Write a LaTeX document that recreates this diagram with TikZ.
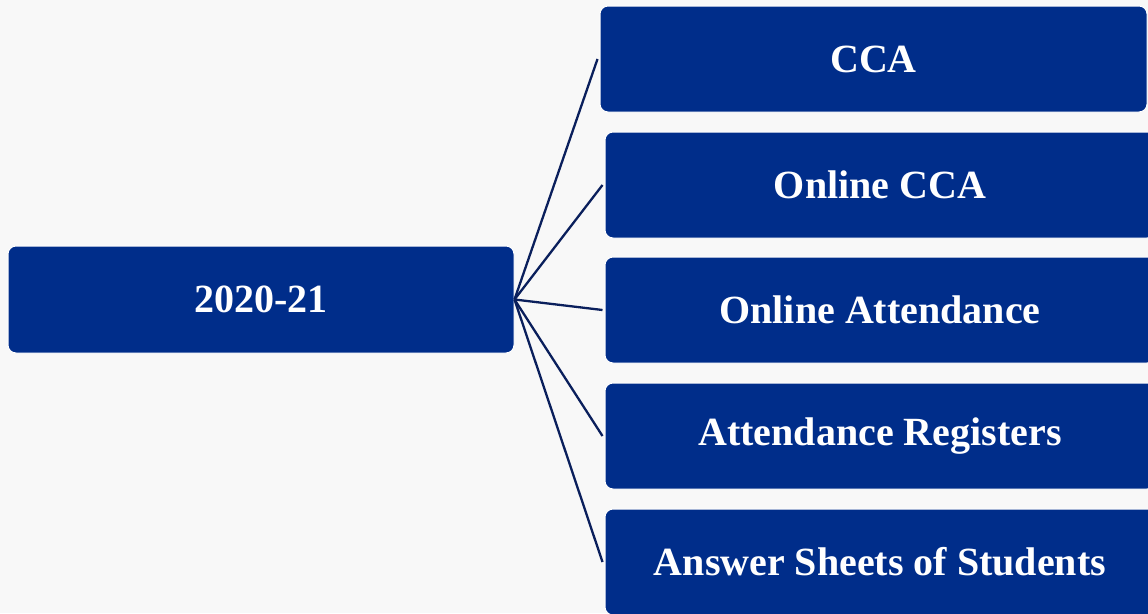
\documentclass[tikz,border=0pt]{standalone}
\usepackage{fontspec}
\setmainfont{Liberation Serif}
\definecolor{boxblue}{HTML}{002D8A}
\definecolor{linenavy}{HTML}{0A1F5C}
\definecolor{bg}{HTML}{F8F8F8}
\tikzset{
  box/.style={draw=white, line width=1pt, fill=boxblue, rounded corners=8pt,
    text=white, font=\bfseries\fontsize{40}{45}\selectfont, inner sep=0pt, align=center},
  conn/.style={draw=linenavy, line width=2.3pt}
}
\begin{document}
\begin{tikzpicture}[x=1pt,y=-1pt]
\useasboundingbox (0,0) rectangle (1148,613);
\clip (0,0) rectangle (1148,613);
\fill[bg] (0,0) rectangle (1148,613);
\node[box, minimum width=506pt, minimum height=107pt] (root) at (261,299.5) {2020-21};
\node[box, minimum width=547pt, minimum height=106pt] (b1) at (873.5,59) {CCA};
\node[box, minimum width=550pt, minimum height=106pt] (b2) at (880,185) {Online CCA};
\node[box, minimum width=550pt, minimum height=106pt] (b3) at (880,310) {Online Attendance};
\node[box, minimum width=550pt, minimum height=106pt] (b4) at (880,436) {Attendance Registers};
\node[box, minimum width=550pt, minimum height=106pt] (b5) at (880,562) {Answer Sheets of Students};
\foreach \b in {b1,b2,b3,b4,b5}{
  \draw[conn] (root.east) -- ([xshift=-2pt]\b.west);
}
\end{tikzpicture}
\end{document}
